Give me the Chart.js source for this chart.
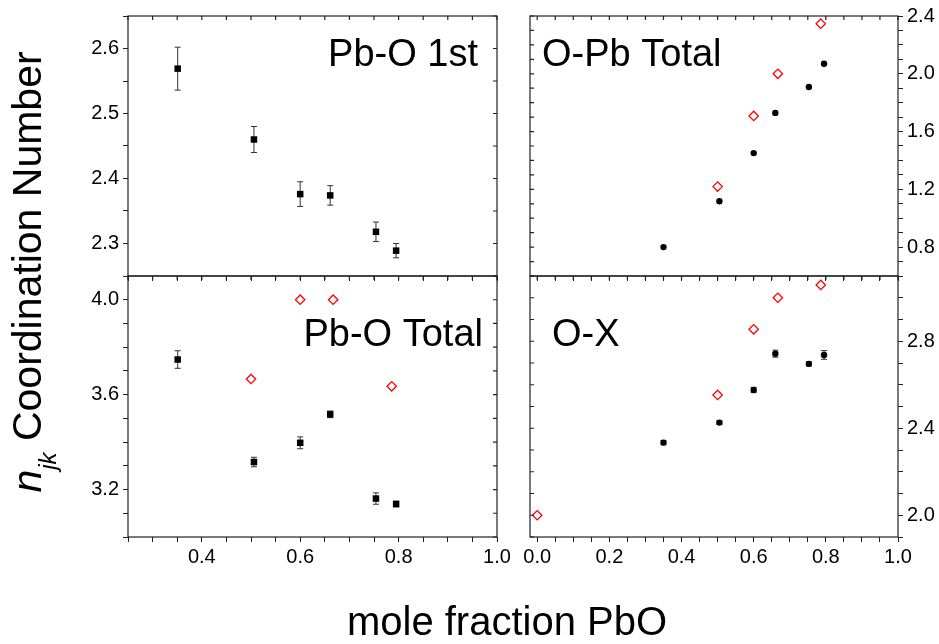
<!DOCTYPE html>
<html>
<head>
<meta charset="utf-8">
<title>Coordination numbers vs mole fraction PbO</title>
<script src="https://cdn.jsdelivr.net/npm/chart.js@4.4.1/dist/chart.umd.min.js"></script>
<style>
    body { margin: 0; background: #fff; width: 939px; height: 644px; overflow: hidden; position: relative;
           font-family: "Liberation Sans", Arial, sans-serif; color: #000; }
    canvas { position: absolute; left: 0; top: 0; }
    .title { position: absolute; line-height: 50px; height: 50px; width: 600px;
             text-align: center; white-space: nowrap; }
    #ytitle { left: -273px; top: 247px; transform: rotate(-90deg); font-size: 41px; }
    #ytitle i sub { font-size: 24px; vertical-align: -15px; }
    #xtitle { left: 207px; top: 596px; font-size: 40px; }
</style>
</head>
<body>
<canvas id="pbo1" width="939" height="644"></canvas>
<canvas id="opb" width="939" height="644"></canvas>
<canvas id="pbot" width="939" height="644"></canvas>
<canvas id="ox" width="939" height="644"></canvas>
<div class="title" id="ytitle"><i>n<sub>jk</sub></i> Coordination Number</div>
<div class="title" id="xtitle">mole fraction PbO</div>

<script>
'use strict';

// ---- data ----
// Pb-O first shell
const pbo1X   = [0.351, 0.506, 0.600, 0.661, 0.754, 0.795];
const pbo1Y   = [2.569, 2.460, 2.376, 2.374, 2.318, 2.289];
const pbo1Err = [0.033, 0.020, 0.019, 0.015, 0.015, 0.011];

// O-Pb total
const opbX    = [0.350, 0.505, 0.600, 0.660, 0.753, 0.795];
const opbY    = [0.800, 1.117, 1.451, 1.729, 1.908, 2.069];
const opbRefX = [0.500, 0.600, 0.667, 0.786];
const opbRefY = [1.219, 1.708, 2.000, 2.347];

// Pb-O total
const pbotX    = [0.351, 0.506, 0.600, 0.661, 0.754, 0.795];
const pbotY    = [3.748, 3.316, 3.397, 3.517, 3.162, 3.139];
const pbotErr  = [0.037, 0.020, 0.025, 0.014, 0.024, 0.012];
const pbotRefX = [0.500, 0.600, 0.667, 0.786];
const pbotRefY = [3.666, 4.000, 4.000, 3.635];

// O-X
const oxX    = [0.350, 0.505, 0.600, 0.660, 0.753, 0.795];
const oxY    = [2.334, 2.426, 2.576, 2.743, 2.696, 2.737];
const oxErr  = [0.010, 0.008, 0.012, 0.016, 0.010, 0.020];
const oxRefX = [0.000, 0.500, 0.600, 0.667, 0.786];
const oxRefY = [2.000, 2.553, 2.855, 3.000, 3.059];

// ---- layout ----
const PAGE_W = 939, PAGE_H = 644;
const Y_W = 60, X_H = 40;
const AXIS = '#222';

Chart.defaults.font.family = '"Liberation Sans", Arial, sans-serif';
Chart.defaults.font.size = 20;
Chart.defaults.color = '#000';

const isMult = (v, m) => Math.abs(v / m - Math.round(v / m)) < 1e-6;
const toPts = (xs, ys) => xs.map((x, i) => ({ x, y: ys[i] }));

const squares = (xs, ys, errs) => ({
    data: toPts(xs, ys), errors: errs,
    pointStyle: 'rect', pointRadius: 4.6, pointBackgroundColor: '#000', pointBorderWidth: 0
});
const dots = (xs, ys, errs) => ({
    data: toPts(xs, ys), errors: errs,
    pointStyle: 'circle', pointRadius: 3.2, pointBackgroundColor: '#000', pointBorderWidth: 0
});
const diamonds = (xs, ys) => ({
    data: toPts(xs, ys),
    pointStyle: 'rectRot', pointRadius: 4.7, pointBackgroundColor: 'rgba(0,0,0,0)',
    pointBorderColor: '#f00', pointBorderWidth: 1.3
});

// box frame + inward ticks on the mirror sides
const framePlugin = {
    id: 'frame',
    afterDraw(chart) {
        const { ctx, chartArea: a, scales: { x, y } } = chart;
        ctx.save();
        ctx.strokeStyle = AXIS;
        ctx.lineWidth = 1.2;
        ctx.strokeRect(a.left, a.top, a.right - a.left, a.bottom - a.top);
        ctx.beginPath();
        x.ticks.forEach(t => {
            const px = x.getPixelForValue(t.value);
            ctx.moveTo(px, a.top); ctx.lineTo(px, a.top + 4);
        });
        const side = y.position === 'left' ? a.right : a.left;
        const dir = y.position === 'left' ? -1 : 1;
        y.ticks.forEach(t => {
            const py = y.getPixelForValue(t.value);
            ctx.moveTo(side, py); ctx.lineTo(side + dir * 4, py);
        });
        ctx.stroke();
        ctx.restore();
    }
};

const errorBarPlugin = {
    id: 'errorBars',
    beforeDatasetsDraw(chart) {
        const { ctx, scales: { x, y } } = chart;
        chart.data.datasets.forEach(ds => {
            if (!ds.errors) return;
            ctx.save();
            ctx.strokeStyle = '#333';
            ctx.lineWidth = 1;
            ds.data.forEach((p, i) => {
                const e = ds.errors[i];
                const px = x.getPixelForValue(p.x);
                const top = y.getPixelForValue(p.y + e);
                const bot = y.getPixelForValue(p.y - e);
                ctx.beginPath();
                ctx.moveTo(px, top); ctx.lineTo(px, bot);
                ctx.moveTo(px - 3, top); ctx.lineTo(px + 3, top);
                ctx.moveTo(px - 3, bot); ctx.lineTo(px + 3, bot);
                ctx.stroke();
            });
            ctx.restore();
        });
    }
};

const labelPlugin = {
    id: 'panelLabel',
    afterDraw(chart, args, opts) {
        const { ctx, chartArea: a } = chart;
        ctx.save();
        ctx.font = '38px "Liberation Sans", Arial, sans-serif';
        ctx.fillStyle = '#000';
        ctx.textBaseline = 'alphabetic';
        ctx.textAlign = opts.align;
        const px = opts.align === 'right' ? a.right - opts.dx : a.left + opts.dx;
        ctx.fillText(opts.text, px, a.top + opts.dy);
        ctx.restore();
    }
};

function panel(id, box, xr, yr, datasets, label, showX, ySide) {
    const yRight = ySide === 'right';
    return new Chart(document.getElementById(id), {
        type: 'scatter',
        data: { datasets },
        options: {
            responsive: false,
            animation: false,
            events: [],
            clip: false,
            layout: {
                padding: {
                    left: yRight ? box.l : box.l - Y_W,
                    right: yRight ? PAGE_W - box.r - Y_W : PAGE_W - box.r,
                    top: box.t,
                    bottom: PAGE_H - box.b - X_H
                }
            },
            plugins: { legend: { display: false }, tooltip: { enabled: false }, panelLabel: label },
            scales: {
                x: {
                    type: 'linear', min: xr.min, max: xr.max,
                    afterFit: s => { s.height = X_H; },
                    border: { display: false },
                    grid: { drawOnChartArea: false, tickLength: 5, color: AXIS },
                    ticks: {
                        display: showX, stepSize: 0.05, includeBounds: false, autoSkip: false,
                        maxRotation: 0, padding: 3,
                        callback: v => isMult(v, 0.2) ? v.toFixed(1) : ''
                    }
                },
                y: {
                    type: 'linear', position: ySide, min: yr.min, max: yr.max,
                    afterFit: s => { s.width = Y_W; },
                    border: { display: false },
                    grid: { drawOnChartArea: false, tickLength: 5, color: AXIS },
                    ticks: {
                        stepSize: yr.step, includeBounds: false, autoSkip: false, padding: 4,
                        callback: v => isMult(v, yr.label) ? v.toFixed(1) : ''
                    }
                }
            }
        },
        plugins: [errorBarPlugin, framePlugin, labelPlugin]
    });
}

const leftX  = { min: 0.25, max: 1.0 };
const rightX = { min: -0.02, max: 1.0 };

panel('pbo1', { l: 128, t: 15, r: 497, b: 276 }, leftX,
      { min: 2.25, max: 2.65, step: 0.05, label: 0.1 },
      [squares(pbo1X, pbo1Y, pbo1Err)],
      { text: 'Pb-O 1st', align: 'right', dx: 19, dy: 50 }, false, 'left');

panel('opb', { l: 530, t: 15, r: 898, b: 276 }, rightX,
      { min: 0.6, max: 2.4, step: 0.1, label: 0.4 },
      [dots(opbX, opbY), diamonds(opbRefX, opbRefY)],
      { text: 'O-Pb Total', align: 'left', dx: 12, dy: 50 }, false, 'right');

panel('pbot', { l: 128, t: 276, r: 497, b: 537 }, leftX,
      { min: 3.0, max: 4.1, step: 0.1, label: 0.4 },
      [squares(pbotX, pbotY, pbotErr), diamonds(pbotRefX, pbotRefY)],
      { text: 'Pb-O Total', align: 'right', dx: 14, dy: 70 }, true, 'left');

panel('ox', { l: 530, t: 276, r: 898, b: 537 }, rightX,
      { min: 1.9, max: 3.1, step: 0.1, label: 0.4 },
      [dots(oxX, oxY, oxErr), diamonds(oxRefX, oxRefY)],
      { text: 'O-X', align: 'left', dx: 22, dy: 70 }, true, 'right');
</script>
</body>
</html>
